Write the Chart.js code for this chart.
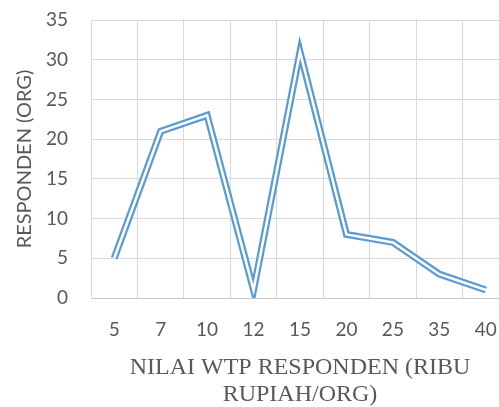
<!DOCTYPE html>
<html>
<head>
<meta charset="utf-8">
<script src="https://cdn.jsdelivr.net/npm/chart.js@4/dist/chart.umd.min.js"></script>
<style>
  html, body { margin: 0; padding: 0; background: #fff; overflow: hidden; }
  #wrap { width: 512px; height: 408px; position: relative; }
</style>
</head>
<body>
<div id="wrap"><canvas id="wtpChart"></canvas></div>
<script>
// WTP values (ribu rupiah / org) and number of respondents
const wtpLabels = ['5', '7', '10', '12', '15', '20', '25', '35', '40'];
const responden = [5, 21, 23, 1, 31, 8, 7, 3, 1];
const yTicks = [0, 5, 10, 15, 20, 25, 30, 35];

const textGray = '#595959';
const gridGray = '#d9d9d9';
const lineBlue = '#5b9bd5';

const ctx = document.getElementById('wtpChart').getContext('2d');
new Chart(ctx, {
    type: 'line',
    data: {
        labels: wtpLabels,
        datasets: [
            // white core drawn on top to give the double-line look
            {
                data: responden,
                borderColor: '#ffffff',
                borderWidth: 2.5,
                borderJoinStyle: 'miter',
                borderCapStyle: 'butt',
                pointRadius: 0,
                tension: 0
            },
            {
                data: responden,
                borderColor: lineBlue,
                borderWidth: 7,
                borderJoinStyle: 'miter',
                borderCapStyle: 'butt',
                pointRadius: 0,
                tension: 0
            }
        ]
    },
    options: {
        responsive: true,
        maintainAspectRatio: false,
        animation: false,
        layout: { padding: { top: 20, right: 3, bottom: 0, left: 0 } },
        scales: {
            x: {
                offset: true,
                grid: { offset: true, color: gridGray, drawTicks: false },
                border: { color: '#c8c8c8' },
                ticks: {
                    color: textGray,
                    font: { family: 'Lato', size: 19 },
                    padding: 20,
                    maxRotation: 0,
                    autoSkip: false
                },
                title: {
                    display: true,
                    text: ['NILAI WTP RESPONDEN (RIBU', 'RUPIAH/ORG)'],
                    color: textGray,
                    font: { family: 'Liberation Serif', size: 24, lineHeight: 1.11 },
                    padding: { top: 0, bottom: 0 }
                },
                afterFit: (scale) => {
                    scale.height = 110;
                    scale.paddingLeft = 0;
                    scale.paddingRight = 0;
                }
            },
            y: {
                min: 0,
                max: 35,
                afterBuildTicks: (scale) => { scale.ticks = yTicks.map(v => ({ value: v })); },
                grid: { color: gridGray, drawTicks: false },
                border: { color: gridGray },
                ticks: {
                    color: textGray,
                    font: { family: 'Lato', size: 19 },
                    padding: 23
                },
                title: {
                    display: true,
                    text: 'RESPONDEN (ORG)',
                    color: textGray,
                    font: { family: 'Lato', size: 20 },
                    padding: { top: 13, bottom: 0 }
                },
                afterFit: (scale) => {
                    scale.width = 91;
                    scale.paddingTop = 0;
                    scale.paddingBottom = 0;
                }
            }
        },
        plugins: {
            legend: { display: false },
            tooltip: { enabled: false }
        }
    }
});
</script>
</body>
</html>
